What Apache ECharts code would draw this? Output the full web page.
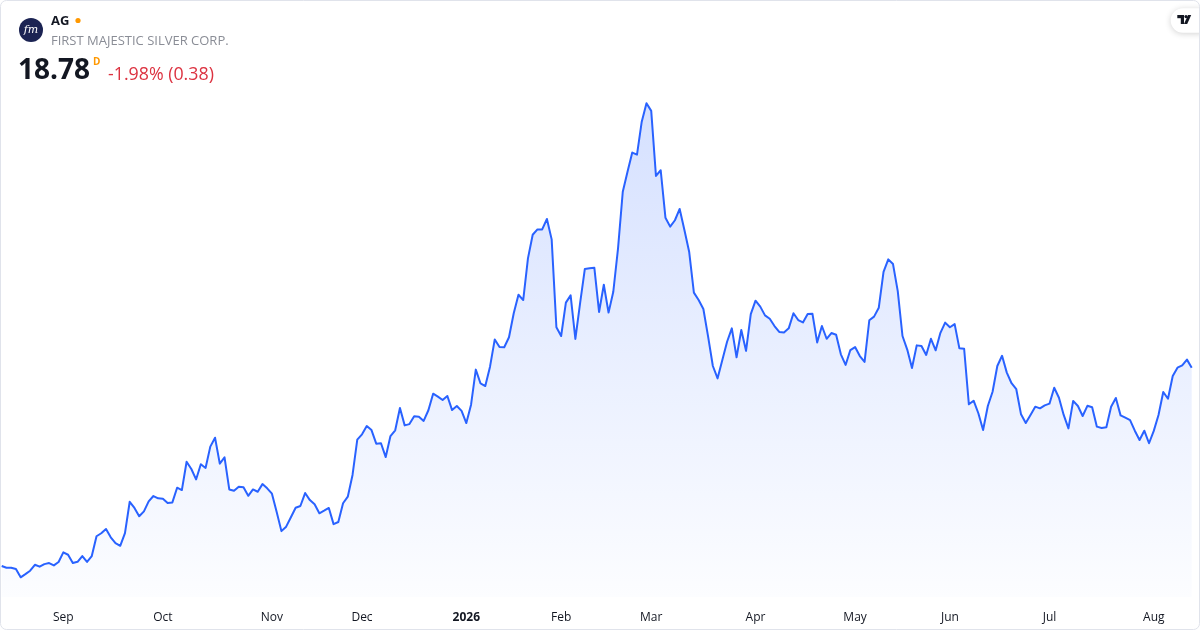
<!DOCTYPE html>
<html>
<head>
<meta charset="utf-8">
<script src="https://cdn.jsdelivr.net/npm/echarts@6/dist/echarts.min.js"></script>
<style>
html,body{margin:0;padding:0;background:#fff;}
#c{width:1200px;height:630px;}
</style>
</head>
<body>
<div id="c"></div>
<script>
// Daily closes, AG (First Majestic Silver), Aug 2025 – Aug 2026
const closePrices = [
9.46,9.38,9.38,9.32,8.93,9.08,9.24,9.52,9.43,9.55,
9.60,9.49,9.65,10.10,9.99,9.60,9.66,9.93,9.65,9.93,
10.86,11.00,11.20,10.81,10.54,10.41,11.01,12.48,12.19,11.80,
12.03,12.50,12.75,12.64,12.62,12.42,12.45,13.14,13.03,14.36,
14.02,13.53,14.24,14.07,15.07,15.49,14.27,14.57,13.06,13.00,
13.19,13.16,12.76,13.06,12.95,13.31,13.11,12.86,12.00,11.10,
11.31,11.75,12.20,12.28,12.89,12.56,12.36,11.94,12.06,12.19,
11.43,11.53,12.41,12.72,13.74,15.40,15.65,16.04,15.85,15.21,
15.23,14.58,15.57,15.84,16.89,16.07,16.13,16.50,16.48,16.28,
16.78,17.56,17.42,17.26,17.45,16.79,16.98,16.75,16.18,17.04,
18.69,18.04,17.92,18.83,20.11,19.75,19.74,20.21,21.34,22.21,
21.96,23.92,25.03,25.28,25.28,25.77,24.81,20.68,20.27,21.84,
22.18,20.13,21.81,23.42,23.45,23.48,21.40,22.68,21.37,22.35,
24.39,27.05,27.99,28.89,28.79,30.34,31.21,30.85,27.79,28.06,
25.83,25.41,25.71,26.24,25.25,24.23,22.31,21.96,21.54,20.24,
18.86,18.28,19.14,20.00,20.63,19.27,20.55,19.57,21.30,21.93,
21.65,21.24,21.08,20.74,20.46,20.44,20.63,21.34,21.02,20.91,
21.30,21.32,19.97,20.74,20.14,20.41,20.33,19.41,18.91,19.61,
19.75,19.33,19.05,21.01,21.18,21.60,23.28,23.87,23.65,22.38,
20.27,19.63,18.77,19.83,19.80,19.38,20.14,19.60,20.42,20.90,
20.68,20.83,19.69,19.67,17.06,17.23,16.64,15.85,16.98,17.65,
18.86,19.34,18.55,18.05,17.77,16.59,16.18,16.56,16.95,16.87,
17.01,17.09,17.84,17.37,16.56,15.93,17.22,16.98,16.51,16.99,
16.92,16.01,15.95,15.98,16.95,17.36,16.54,16.43,16.32,15.82,
15.38,15.82,15.23,15.81,16.56,17.64,17.32,18.39,18.78,18.89,
19.16,18.78
];
// Month tick labels: [bar index, label]
const monthTicks = [
[13,'Sep'],[34,'Oct'],[57,'Nov'],[76,'Dec'],[98,'2026'],[118,'Feb'],
[137,'Mar'],[159,'Apr'],[180,'May'],[200,'Jun'],[221,'Jul'],[243,'Aug']
];
const symbolText = 'AG';
const companyName = 'FIRST MAJESTIC SILVER CORP.';
const lastPriceText = '18.78';
const changeText = '-1.98% (0.38)';

const categories = closePrices.map((_, i) => i);
const tickMap = {};
monthTicks.forEach(t => { tickMap[t[0]] = t[1]; });

const FONT = '"Open Sans", "Noto Sans", sans-serif';
const chart = echarts.init(document.getElementById('c'), null, {renderer: 'canvas'});
chart.setOption({
  animation: false,
  backgroundColor: '#ffffff',
  grid: {left: 1.7, right: 8.3, top: 86.4, height: 510.7},
  xAxis: {
    type: 'category',
    data: categories,
    boundaryGap: false,
    axisLine: {show: false},
    axisTick: {show: false},
    splitLine: {show: false},
    axisLabel: {
      interval: (idx) => tickMap[idx] !== undefined,
      formatter: (v) => {
        const lab = tickMap[v];
        if (lab === undefined) return '';
        return /^\d{4}$/.test(lab) ? '{b|' + lab + '}' : lab;
      },
      margin: 14,
      color: '#131722',
      fontSize: 12,
      fontFamily: FONT,
      rich: {b: {fontWeight: 'bold', fontSize: 12, color: '#131722', fontFamily: FONT}}
    }
  },
  yAxis: {
    type: 'value', min: 8, max: 32, show: false, splitLine: {show: false}
  },
  series: [{
    type: 'line',
    data: closePrices,
    showSymbol: false,
    symbol: 'none',
    lineStyle: {color: '#2962ff', width: 2, join: 'round'},
    areaStyle: {
      origin: 'start',
      color: new echarts.graphic.LinearGradient(0, 0, 0, 1, [
        {offset: 0, color: 'rgba(41,98,255,0.28)'},
        {offset: 1, color: 'rgba(41,98,255,0.02)'}
      ])
    }
  }],
  graphic: [
    {type: 'rect', shape: {x: 0.5, y: 0.5, width: 1199, height: 629, r: 6},
     style: {fill: 'none', stroke: '#e0e3eb', lineWidth: 1}, silent: true, z: 100},
    // logo
    {type: 'circle', shape: {cx: 31, cy: 30, r: 12}, style: {fill: '#1b2353'}},
    {type: 'text', x: 31, y: 30, style: {text: 'fm', fill: '#ffffff', font: 'italic 11px "DejaVu Serif", serif', align: 'center', verticalAlign: 'middle'}},
    {type: 'text', x: 51, y: 21, style: {text: symbolText, fill: '#131722', font: 'bold 13px ' + FONT, verticalAlign: 'middle'}},
    {type: 'circle', shape: {cx: 78, cy: 20.5, r: 2.6}, style: {fill: '#ff9800'}},
    {type: 'text', x: 51, y: 41, style: {text: companyName, fill: '#8a8d96', font: '13px ' + FONT, verticalAlign: 'middle'}},
    {type: 'text', x: 18, y: 71.5, style: {text: lastPriceText, fill: '#131722', font: 'bold 28px ' + FONT, verticalAlign: 'middle'}},
    {type: 'text', x: 93, y: 62, style: {text: 'D', fill: '#ff9800', font: 'bold 10px ' + FONT, verticalAlign: 'middle'}},
    {type: 'text', x: 108, y: 74.5, style: {text: changeText, fill: '#dc3240', font: '17.8px ' + FONT, verticalAlign: 'middle'}},
    // TradingView badge
    {type: 'rect', shape: {x: 1170.7, y: 8.3, width: 40, height: 24.4, r: 12.2},
     style: {fill: '#ffffff', shadowBlur: 6, shadowColor: 'rgba(0,0,0,0.18)', shadowOffsetY: 1}, z: 50},
    {type: 'rect', shape: {x: 1177.3, y: 15, width: 6.7, height: 3.2}, style: {fill: '#131722'}, z: 51},
    {type: 'rect', shape: {x: 1180.8, y: 15, width: 3.2, height: 9}, style: {fill: '#131722'}, z: 51},
    {type: 'circle', shape: {cx: 1186, cy: 16.6, r: 1.6}, style: {fill: '#131722'}, z: 51},
    {type: 'polygon', shape: {points: [[1188, 15], [1191.2, 15], [1187.2, 24], [1184, 24]]}, style: {fill: '#131722'}, z: 51}
  ]
});
</script>
</body>
</html>
